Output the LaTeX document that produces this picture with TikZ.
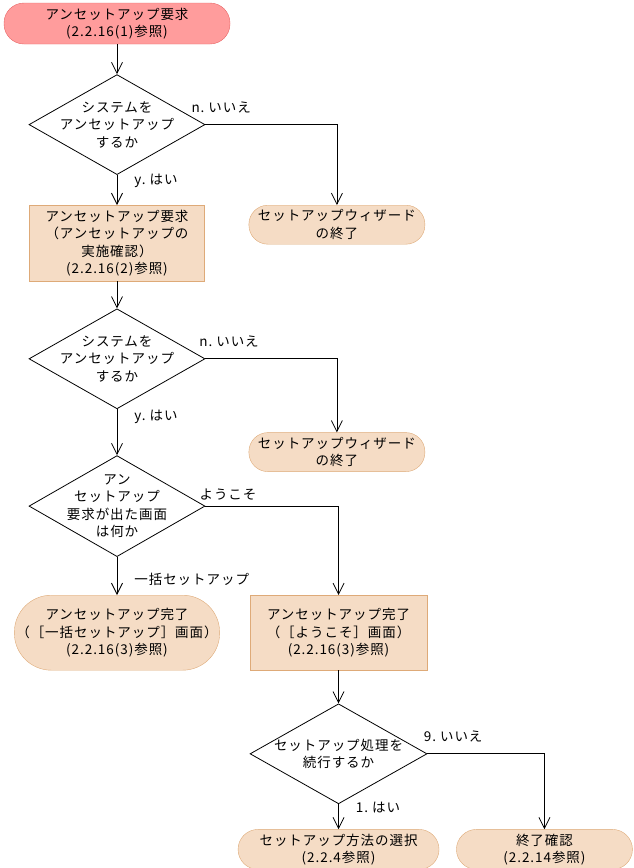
\documentclass[tikz,border=0pt]{standalone}
\usepackage{fontspec}
\newfontfamily\jpfont[LetterSpace=7]{Noto Sans CJK JP}
\newcommand{\flowfont}{\jpfont\fontsize{13.5pt}{17.5pt}\selectfont}
\usepackage{tikz}
\usetikzlibrary{shapes.geometric, arrows.meta, positioning}

\definecolor{reqfill}{RGB}{255,156,156}
\definecolor{reqline}{RGB}{232,104,104}
\definecolor{stepfill}{RGB}{245,220,197}
\definecolor{stepline}{RGB}{222,170,120}

\begin{document}
\begin{tikzpicture}[
  node distance=30pt,
  every node/.style={font=\flowfont, align=center},
  request/.style={rectangle, draw=reqline, fill=reqfill, rounded corners=20pt, minimum width=226pt, minimum height=41pt, inner sep=2pt},
  term/.style={rectangle, draw=stepline, fill=stepfill, rounded corners=19pt, minimum width=176pt, minimum height=39pt, inner sep=2pt},
  process/.style={rectangle, draw=stepline, fill=stepfill, minimum width=175pt, minimum height=76pt, inner sep=2pt},
  decision/.style={diamond, draw, line width=0.8pt, minimum width=176pt, minimum height=100pt, inner sep=0pt},
  answer/.style={inner sep=1pt},
  arrow/.style={-{Straight Barb[length=11pt, width=11pt]}, line width=0.8pt}
]
\useasboundingbox (0,0) rectangle (634pt,-868pt);

% Left column
\node[request] (req) at (117pt,-23.5pt) {アンセットアップ要求\\(2.2.16(1)参照)};
\node[decision, below=30pt of req, label={center:{システムを\\アンセットアップ\\するか}}] (ask1) {};
\node[process, below=30pt of ask1] (confirm) {アンセットアップ要求\\（アンセットアップの\\実施確認）\\(2.2.16(2)参照)};
\node[decision, below=27pt of confirm, label={center:{システムを\\アンセットアップ\\するか}}] (ask2) {};
\node[decision, below=46pt of ask2, minimum height=101pt, label={center:{アン\\セットアップ\\要求が出た画面\\は何か}}] (screen) {};
\node[term, below=38pt of screen, minimum width=202pt, minimum height=75pt, rounded corners=37pt] (bulkdone) {アンセットアップ完了\\（［一括セットアップ］画面）\\(2.2.16(3)参照)};

% Right column
\node[term, right=44pt of confirm.north east, anchor=north west] (quit1) {セットアップウィザード\\の終了};
\node[term, below=188pt of quit1] (quit2) {セットアップウィザード\\の終了};
\node[process, right=30pt of bulkdone, minimum width=177pt, minimum height=75pt] (welcomedone) {アンセットアップ完了\\（［ようこそ］画面）\\(2.2.16(3)参照)};
\node[decision, below=33pt of welcomedone, minimum width=177pt, label={center:{セットアップ処理を\\続行するか}}] (ask3) {};

% Bottom row
\node[term, below=25pt of ask3, minimum width=201pt, minimum height=40pt, rounded corners=20pt] (method) {セットアップ方法の選択\\(2.2.4参照)};
\node[term, right=17pt of method, minimum height=40pt, rounded corners=20pt] (endcheck) {終了確認\\(2.2.14参照)};

% Arrows
\draw[arrow] (req) -- (ask1);
\draw[arrow] (ask1) -- node[answer, pos=0.2, right=16pt] {y.\ はい} (confirm);
\draw[arrow] (ask1.east) -| node[answer, pos=0.06, above=10pt] {n.\ いいえ} (quit1.north);
\draw[arrow] (confirm) -- (ask2);
\draw[arrow] (ask2) -- node[answer, pos=0.17, right=16pt] {y.\ はい} (screen);
\draw[arrow] (ask2.east) -| node[answer, pos=0.09, above=10pt] {n.\ いいえ} (quit2.north);
\draw[arrow] (screen) -- node[answer, pos=0.58, right=16pt] {一括セットアップ} (bulkdone);
\draw[arrow] (screen.east) -| node[answer, pos=0.085, above=4pt] {ようこそ} (welcomedone.north);
\draw[arrow] (welcomedone) -- (ask3);
\draw[arrow] (ask3) -- node[answer, pos=0.12, right=16pt] {1.\ はい} (method);
\draw[arrow] (ask3.east) -| node[answer, pos=0.11, above=10pt] {9.\ いいえ} (endcheck.north);

\end{tikzpicture}
\end{document}
